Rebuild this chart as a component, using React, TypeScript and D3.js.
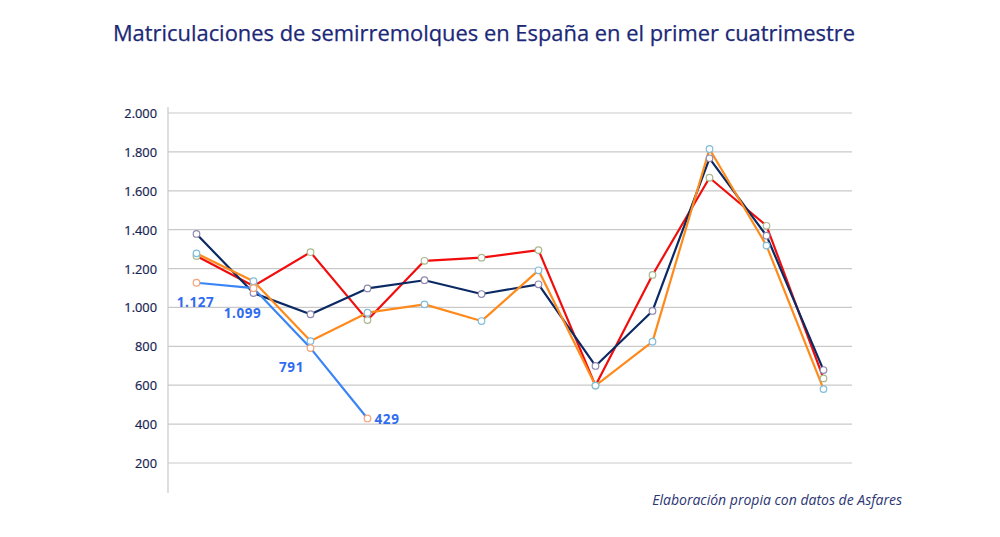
import { useRef, useEffect } from 'react';
import * as d3 from 'd3';

const months = ['1', '2', '3', '4', '5', '6', '7', '8', '9', '10', '11', '12'];
const yTicks = [200, 400, 600, 800, 1000, 1200, 1400, 1600, 1800, 2000];

const navyValues = [1378, 1074, 965, 1098, 1140, 1069, 1119, 699, 982, 1767, 1369, 678];
const redValues = [1265, 1110, 1284, 935, 1240, 1256, 1295, 598, 1167, 1667, 1420, 635];
const orangeValues = [1278, 1135, 827, 973, 1016, 930, 1191, 598, 824, 1815, 1318, 580];
const blueValues = [1127, 1099, 791, 429];
const blueLabels = ['1.127', '1.099', '791', '429'];

const series = [
  { name: 'red', values: redValues, stroke: '#f20d0d', marker: '#a9b98c' },
  { name: 'navy', values: navyValues, stroke: '#0b2a63', marker: '#8f88ae' },
  { name: 'orange', values: orangeValues, stroke: '#ff8a1c', marker: '#80bcdc' },
  { name: 'blue', values: blueValues, stroke: '#3a85f5', marker: '#f2a47c' },
];

const fmt = (v: number) => d3.format(',')(v).replace(/,/g, '.');

export default function App() {
  const svgRef = useRef<SVGSVGElement>(null);

  useEffect(() => {
    if (!svgRef.current) return;
    const svg = d3.select(svgRef.current);
    svg.selectAll('*').remove();

    const x = d3.scaleBand().domain(months).range([168, 852]);
    const cx = (i: number) => x(months[i])! + x.bandwidth() / 2;
    const y = d3.scaleLinear().domain([200, 2000]).range([463, 113]);

    svg
      .append('text')
      .attr('x', 484)
      .attr('y', 41)
      .attr('text-anchor', 'middle')
      .attr('font-family', 'Open Sans, sans-serif')
      .attr('font-size', 21.9)
      .attr('fill', '#1b2877')
      .attr('stroke', '#1b2877')
      .attr('stroke-width', 0.25)
      .text('Matriculaciones de semirremolques en España en el primer cuatrimestre');

    // gridlines
    svg
      .append('g')
      .selectAll('line')
      .data(yTicks)
      .join('line')
      .attr('x1', 168)
      .attr('x2', 852)
      .attr('y1', (d) => y(d))
      .attr('y2', (d) => y(d))
      .attr('stroke', '#c9c9c9')
      .attr('stroke-width', 1.2);

    svg
      .append('line')
      .attr('x1', 168)
      .attr('x2', 168)
      .attr('y1', 107)
      .attr('y2', 493)
      .attr('stroke', '#c9c9c9')
      .attr('stroke-width', 1.2);

    svg
      .append('g')
      .selectAll('text')
      .data(yTicks)
      .join('text')
      .attr('x', 157)
      .attr('y', (d) => y(d))
      .attr('text-anchor', 'end')
      .attr('dominant-baseline', 'central')
      .attr('font-family', 'Open Sans, sans-serif')
      .attr('font-size', 12.8)
      .attr('fill', '#15224f')
      .attr('stroke', '#15224f')
      .attr('stroke-width', 0.2)
      .text((d) => fmt(d));

    const line = d3
      .line<number>()
      .x((_, i) => cx(i))
      .y((d) => y(d));

    series.forEach((s) => {
      svg
        .append('path')
        .datum(s.values)
        .attr('d', line)
        .attr('fill', 'none')
        .attr('stroke', s.stroke)
        .attr('stroke-width', 2.2)
        .attr('stroke-linejoin', 'round');
    });

    series.forEach((s) => {
      svg
        .append('g')
        .selectAll('circle')
        .data(s.values)
        .join('circle')
        .attr('cx', (_, i) => cx(i))
        .attr('cy', (d) => y(d))
        .attr('r', 3.3)
        .attr('fill', '#fff')
        .attr('stroke', s.marker)
        .attr('stroke-width', 1.2);
    });

    // value labels for the current year
    const labelOffsets = [
      { dx: -1, dy: 19, anchor: 'middle' },
      { dx: -11, dy: 25, anchor: 'middle' },
      { dx: -19, dy: 19, anchor: 'middle' },
      { dx: 7, dy: 1, anchor: 'start' },
    ];
    svg
      .append('g')
      .selectAll('text')
      .data(blueValues)
      .join('text')
      .attr('x', (_, i) => cx(i) + labelOffsets[i].dx)
      .attr('y', (d, i) => y(d) + labelOffsets[i].dy)
      .attr('text-anchor', (_, i) => labelOffsets[i].anchor)
      .attr('dominant-baseline', 'central')
      .attr('font-family', 'Open Sans, sans-serif')
      .attr('font-size', 13.5)
      .attr('font-weight', 'bold')
      .attr('letter-spacing', 0.6)
      .attr('fill', '#2f6cf0')
      .text((_, i) => blueLabels[i]);

    svg
      .append('text')
      .attr('x', 902)
      .attr('y', 505)
      .attr('text-anchor', 'end')
      .attr('font-family', 'Open Sans, sans-serif')
      .attr('font-size', 14)
      .attr('font-style', 'italic')
      .attr('fill', '#2b3574')
      .text('Elaboración propia con datos de Asfares');
  }, []);

  return (
    <div style={{ position: 'absolute', left: 0, top: 0 }}>
      <svg ref={svgRef} width={1000} height={537} style={{ display: 'block', background: '#fff' }} />
    </div>
  );
}
